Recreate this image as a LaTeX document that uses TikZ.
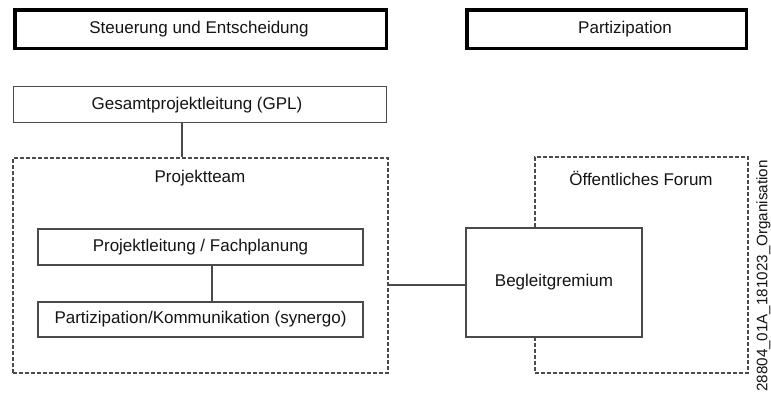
\documentclass[tikz,border=0pt]{standalone}
\usepackage{fontspec}
\setmainfont{Liberation Sans}
\definecolor{linegray}{HTML}{4A4A4A}
\definecolor{dashgray}{HTML}{4A4A4A}
\definecolor{txt}{HTML}{141414}
\begin{document}
\begin{tikzpicture}[x=1pt,y=-1pt,
  every node/.style={inner sep=0pt, text=txt, font=\fontsize{17}{20}\selectfont},
  headbox/.style={draw=black, line width=3.5pt, minimum height=38.5pt},
  plainbox/.style={draw=linegray, line width=1.1pt, fill=white},
  dashbox/.style={draw=dashgray, line width=1.2pt, dash pattern=on 4pt off 2pt},
  conn/.style={draw=linegray, line width=1.3pt}]
\useasboundingbox (0,0) rectangle (771,394);
\fill[white] (0,0) rectangle (771,394);

% header boxes
\node[headbox, minimum width=371.5pt] (steu) at (200.5,29) {};
\node (steutxt) at (199,29.5) {Steuerung und Entscheidung};
\node[headbox, minimum width=279.5pt] (part) at (606.5,29) {};
\node (parttxt) at (625,29.5) {Partizipation};

% left column
\node[plainbox, minimum width=373pt, minimum height=36pt] (gpl) at (200,104.5) {};
\node (gpltxt) at (197,105) {Gesamtprojektleitung (GPL)};

\node[dashbox, minimum width=375pt, minimum height=215pt] (pt) at (200.5,265.5) {};
\node (pttxt) at (200,178) {Projektteam};

\node[plainbox, minimum width=325pt, minimum height=36pt] (pl) at (200.5,247) {Projektleitung / Fachplanung};
\node[plainbox, minimum width=325pt, minimum height=35pt] (pk) at (200.5,319.5) {Partizipation/Kommunikation (synergo)};

% right column
\node[dashbox, minimum width=213pt, minimum height=216pt] (of) at (641.5,265) {};
\node (oftxt) at (641,178) {Öffentliches Forum};
\node[plainbox, minimum width=176pt, minimum height=109pt] (bg) at (554,282.5) {Begleitgremium};

% connectors
\draw[conn] ([xshift=-18pt]gpl.south) -- ([xshift=-18.5pt]pt.north);
\draw[conn] ([xshift=11.5pt]pl.south) -- ([xshift=11.5pt]pk.north);
\draw[conn] (pt.east |- 0,285) -- (bg.west |- 0,285);

% side label
\node[rotate=90, anchor=east, font=\fontsize{15.2}{18}\selectfont] (code) at (763.5,160) {28804\_01A\_181023\_Organisation};
\end{tikzpicture}
\end{document}
